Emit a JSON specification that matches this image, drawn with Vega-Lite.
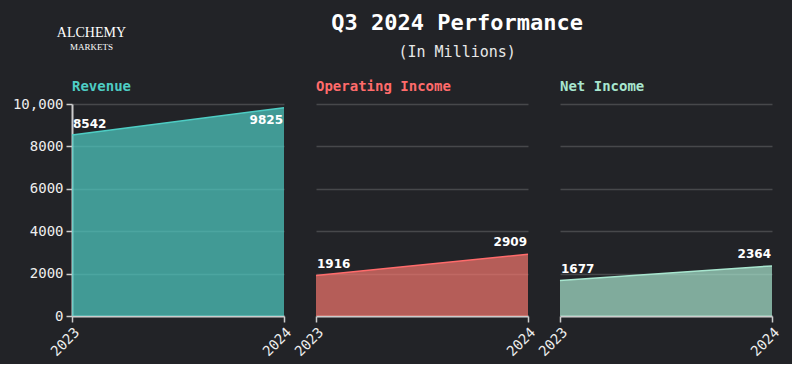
{
  "$schema": "https://vega.github.io/schema/vega-lite/v6.json",
  "background": "#222327",
  "padding": {"left": 12, "top": 12, "right": 10, "bottom": 5},
  "title": {
    "text": "ALCHEMY",
    "subtitle": "MARKETS",
    "anchor": "start",
    "align": "center",
    "dx": 79,
    "offset": -40,
    "color": "#ffffff",
    "subtitleColor": "#ffffff",
    "font": "Liberation Serif",
    "subtitleFont": "Liberation Serif",
    "fontSize": 14,
    "subtitleFontSize": 9,
    "fontWeight": "normal",
    "subtitleFontWeight": "normal",
    "subtitlePadding": 3
  },
  "data": {
    "values": [
      {"metric": "Revenue", "year": "2023", "value": 8542},
      {"metric": "Revenue", "year": "2024", "value": 9825},
      {"metric": "Operating Income", "year": "2023", "value": 1916},
      {"metric": "Operating Income", "year": "2024", "value": 2909},
      {"metric": "Net Income", "year": "2023", "value": 1677},
      {"metric": "Net Income", "year": "2024", "value": 2364}
    ]
  },
  "config": {
    "view": {"stroke": null},
    "axis": {
      "labelFont": "DejaVu Sans Mono",
      "labelColor": "#eeeeee",
      "domainColor": "#cccccc",
      "tickColor": "#cccccc",
      "gridColor": "#47484b",
      "gridWidth": 1.5
    }
  },
  "vconcat": [
    {
      "bounds": "flush",
      "spacing": 32,
      "title": {
        "text": "Q3 2024 Performance",
        "subtitle": "(In Millions)",
        "anchor": "middle",
        "dx": 60,
        "color": "#ffffff",
        "subtitleColor": "#e8e8e8",
        "font": "DejaVu Sans Mono",
        "subtitleFont": "DejaVu Sans Mono",
        "fontSize": 22,
        "subtitleFontSize": 15,
        "fontWeight": "bold",
        "subtitleFontWeight": "normal",
        "subtitlePadding": 10,
        "offset": 19
      },
      "hconcat": [
        {
          "width": 212,
          "height": 212,
          "title": {"text": "Revenue", "color": "#4ECDC4", "anchor": "start", "frame": "group", "font": "DejaVu Sans Mono", "fontSize": 14, "fontWeight": "bold", "offset": 10, "dy": 7},
          "transform": [{"filter": "datum.metric === 'Revenue'"}],
          "encoding": {
            "x": {"field": "year", "type": "ordinal", "scale": {"type": "point", "padding": 0},
              "axis": {"title": null, "labelAngle": -45, "grid": false, "domainWidth": 2, "tickSize": 6, "tickWidth": 1.5, "labelFontSize": 14, "labelPadding": 3}},
            "y": {"field": "value", "type": "quantitative", "scale": {"domain": [0, 10000]},
              "axis": {"title": null, "values": [0, 2000, 4000, 6000, 8000, 10000], "labelExpr": "datum.value >= 10000 ? format(datum.value, ',') : datum.value", "labelFontSize": 14, "tickSize": 6, "tickWidth": 1.5, "domainWidth": 2, "labelPadding": 3}}
          },
          "layer": [
            {"mark": {"type": "area", "color": "#4ECDC4", "fillOpacity": 0.7}},
            {"mark": {"type": "line", "color": "#4ECDC4", "strokeWidth": 1.5}},
            {"transform": [{"filter": "datum.year === '2023'"}], "mark": {"type": "text", "align": "left", "baseline": "bottom", "dx": 1, "dy": -4, "font": "DejaVu Sans", "fontWeight": "bold", "fontSize": 12, "color": "#ffffff"}, "encoding": {"text": {"field": "value"}}},
            {"transform": [{"filter": "datum.year === '2024'"}], "mark": {"type": "text", "align": "right", "baseline": "top", "dx": -1, "dy": 7, "font": "DejaVu Sans", "fontWeight": "bold", "fontSize": 12, "color": "#ffffff"}, "encoding": {"text": {"field": "value"}}}
          ]
        },
        {
          "width": 212,
          "height": 212,
          "title": {"text": "Operating Income", "color": "#FF6B6B", "anchor": "start", "frame": "group", "font": "DejaVu Sans Mono", "fontSize": 14, "fontWeight": "bold", "offset": 10},
          "transform": [{"filter": "datum.metric === 'Operating Income'"}],
          "encoding": {
            "x": {"field": "year", "type": "ordinal", "scale": {"type": "point", "padding": 0},
              "axis": {"title": null, "labelAngle": -45, "grid": false, "domainWidth": 2, "tickSize": 6, "tickWidth": 1.5, "labelFontSize": 14, "labelPadding": 3}},
            "y": {"field": "value", "type": "quantitative", "scale": {"domain": [0, 10000]},
              "axis": {"title": null, "values": [0, 2000, 4000, 6000, 8000, 10000], "labels": false, "ticks": false, "domain": false}}
          },
          "layer": [
            {"mark": {"type": "area", "color": "#F4766E", "fillOpacity": 0.7}},
            {"mark": {"type": "line", "color": "#FF6B6B", "strokeWidth": 1.5}},
            {"transform": [{"filter": "datum.year === '2023'"}], "mark": {"type": "text", "align": "left", "baseline": "bottom", "dx": 1, "dy": -4, "font": "DejaVu Sans", "fontWeight": "bold", "fontSize": 12, "color": "#ffffff"}, "encoding": {"text": {"field": "value"}}},
            {"transform": [{"filter": "datum.year === '2024'"}], "mark": {"type": "text", "align": "right", "baseline": "bottom", "dx": -1, "dy": -5, "font": "DejaVu Sans", "fontWeight": "bold", "fontSize": 12, "color": "#ffffff"}, "encoding": {"text": {"field": "value"}}}
          ]
        },
        {
          "width": 212,
          "height": 212,
          "title": {"text": "Net Income", "color": "#A8E6CF", "anchor": "start", "frame": "group", "font": "DejaVu Sans Mono", "fontSize": 14, "fontWeight": "bold", "offset": 10},
          "transform": [{"filter": "datum.metric === 'Net Income'"}],
          "encoding": {
            "x": {"field": "year", "type": "ordinal", "scale": {"type": "point", "padding": 0},
              "axis": {"title": null, "labelAngle": -45, "grid": false, "domainWidth": 2, "tickSize": 6, "tickWidth": 1.5, "labelFontSize": 14, "labelPadding": 3}},
            "y": {"field": "value", "type": "quantitative", "scale": {"domain": [0, 10000]},
              "axis": {"title": null, "values": [0, 2000, 4000, 6000, 8000, 10000], "labels": false, "ticks": false, "domain": false}}
          },
          "layer": [
            {"mark": {"type": "area", "color": "#A8E6CF", "fillOpacity": 0.7}},
            {"mark": {"type": "line", "color": "#A8E6CF", "strokeWidth": 1.5}},
            {"transform": [{"filter": "datum.year === '2023'"}], "mark": {"type": "text", "align": "left", "baseline": "bottom", "dx": 1, "dy": -4, "font": "DejaVu Sans", "fontWeight": "bold", "fontSize": 12, "color": "#ffffff"}, "encoding": {"text": {"field": "value"}}},
            {"transform": [{"filter": "datum.year === '2024'"}], "mark": {"type": "text", "align": "right", "baseline": "bottom", "dx": -1, "dy": -5, "font": "DejaVu Sans", "fontWeight": "bold", "fontSize": 12, "color": "#ffffff"}, "encoding": {"text": {"field": "value"}}}
          ]
        }
      ]
    }
  ]
}
